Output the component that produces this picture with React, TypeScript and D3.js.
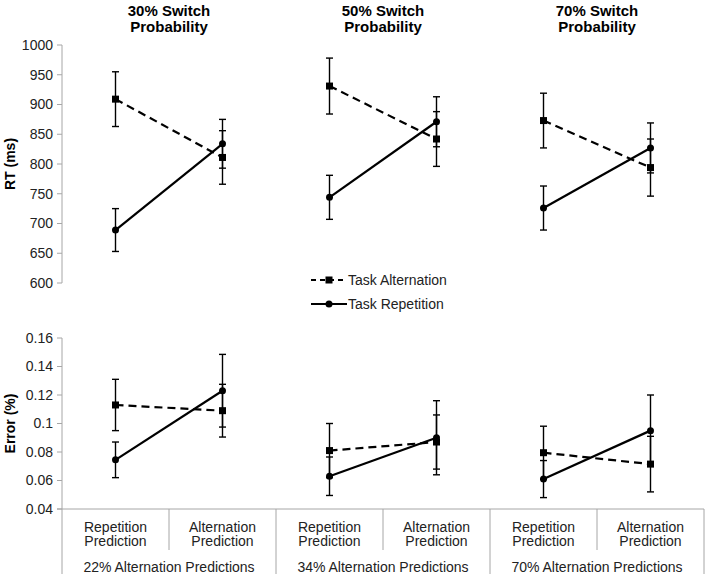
import React from "react";
import * as d3 from "d3";

// panel titles, categories and group labels
const switchTitles = ["30% Switch", "50% Switch", "70% Switch"];
const predictionTypes = ["Repetition Prediction", "Alternation Prediction"];
const groupLabels = ["22% Alternation Predictions", "34% Alternation Predictions", "70% Alternation Predictions"];

// RT (ms), order: group1 rep, group1 alt, group2 rep, ...
const rtAlternation = [909, 811, 931, 842, 873, 794];
const rtAlternationErr = [46, 45, 47, 46, 46, 48];
const rtRepetition = [689, 834, 744, 871, 726, 827];
const rtRepetitionErr = [36, 41, 37, 42, 37, 42];
const rtTicks = [600, 650, 700, 750, 800, 850, 900, 950, 1000];

// Error rates
const errAlternation = [0.113, 0.109, 0.081, 0.087, 0.0795, 0.0715];
const errAlternationErr = [0.018, 0.0185, 0.019, 0.019, 0.0186, 0.0195];
const errRepetition = [0.0745, 0.123, 0.063, 0.09, 0.061, 0.095];
const errRepetitionErr = [0.0125, 0.0255, 0.0135, 0.026, 0.013, 0.025];
const errTicks = [0.04, 0.06, 0.08, 0.1, 0.12, 0.14, 0.16];

const seriesNames = ["Task Alternation", "Task Repetition"];

const W = 709;
const H = 580;
const FONT = "'Liberation Sans', Arial, sans-serif";
const AXIS = "#a6a6a6";

const cats = d3.range(6).map(String);
const x = d3.scaleBand().domain(cats).range([62, 704]);
const yTop = d3.scaleLinear().domain([600, 1000]).range([283, 45]);
const yBot = d3.scaleLinear().domain([0.04, 0.16]).range([509, 338]);

const groupX = (g: number) => (x(String(g * 2))! + x(String(g * 2 + 1))! + x.bandwidth()) / 2;
const cx = (i: number) => x(String(i))! + x.bandwidth() / 2;

type Series = { vals: number[]; errs: number[]; dashed: boolean; square: boolean };

function Panel({ y, series }: { y: d3.ScaleLinear<number, number>; series: Series[] }) {
  return (
    <g>
      {series.map((s, si) => (
        <g key={si}>
          {[0, 1, 2].map((g) => {
            const pts: [number, number][] = [
              [cx(g * 2), y(s.vals[g * 2])],
              [cx(g * 2 + 1), y(s.vals[g * 2 + 1])],
            ];
            return (
              <path
                key={g}
                d={d3.line()(pts) || ""}
                fill="none"
                stroke="#000"
                strokeWidth={2.2}
                strokeDasharray={s.dashed ? "8,5" : undefined}
              />
            );
          })}
          {s.vals.map((v, i) => (
            <g key={i} stroke="#000" strokeWidth={1.4}>
              <line x1={cx(i)} x2={cx(i)} y1={y(v - s.errs[i])} y2={y(v + s.errs[i])} />
              <line x1={cx(i) - 3.5} x2={cx(i) + 3.5} y1={y(v - s.errs[i])} y2={y(v - s.errs[i])} />
              <line x1={cx(i) - 3.5} x2={cx(i) + 3.5} y1={y(v + s.errs[i])} y2={y(v + s.errs[i])} />
            </g>
          ))}
          {s.vals.map((v, i) =>
            s.square ? (
              <rect key={"m" + i} x={cx(i) - 3.5} y={y(v) - 3.5} width={7} height={7} fill="#000" />
            ) : (
              <circle key={"m" + i} cx={cx(i)} cy={y(v)} r={3.5} fill="#000" />
            )
          )}
        </g>
      ))}
    </g>
  );
}

export default function App() {
  const topSeries: Series[] = [
    { vals: rtAlternation, errs: rtAlternationErr, dashed: true, square: true },
    { vals: rtRepetition, errs: rtRepetitionErr, dashed: false, square: false },
  ];
  const botSeries: Series[] = [
    { vals: errAlternation, errs: errAlternationErr, dashed: true, square: true },
    { vals: errRepetition, errs: errRepetitionErr, dashed: false, square: false },
  ];
  const x0 = x.range()[0];
  const x1 = x.range()[1];

  return (
    <svg
      width={W}
      height={H}
      style={{ position: "absolute", left: 0, top: 0, background: "#fff" }}
      fontFamily={FONT}
    >
      {/* titles */}
      {switchTitles.map((t, g) => (
        <text key={t} x={groupX(g)} textAnchor="middle" fontWeight="bold" fontSize={15}>
          <tspan x={groupX(g)} y={16}>{t}</tspan>
          <tspan x={groupX(g)} y={32}>Probability</tspan>
        </text>
      ))}

      {/* top axis */}
      <line x1={x0} x2={x0} y1={yTop.range()[1]} y2={yTop.range()[0]} stroke={AXIS} />
      {rtTicks.map((t) => (
        <g key={t}>
          <line x1={x0 - 5} x2={x0} y1={yTop(t)} y2={yTop(t)} stroke={AXIS} />
          <text x={x0 - 9} y={yTop(t)} dy="0.35em" textAnchor="end" fontSize={14} fill="#222">
            {t}
          </text>
        </g>
      ))}
      <text transform={`translate(15,${(yTop.range()[0] + yTop.range()[1]) / 2}) rotate(-90)`} textAnchor="middle" fontWeight="bold" fontSize={14}>
        RT (ms)
      </text>

      {/* bottom axis */}
      <line x1={x0} x2={x0} y1={yBot.range()[1]} y2={574} stroke={AXIS} />
      <line x1={x0 - 5} x2={x1} y1={yBot(0.04)} y2={yBot(0.04)} stroke={AXIS} />
      {errTicks.map((t) => (
        <g key={t}>
          <line x1={x0 - 5} x2={x0} y1={yBot(t)} y2={yBot(t)} stroke={AXIS} />
          <text x={x0 - 9} y={yBot(t)} dy="0.35em" textAnchor="end" fontSize={14} fill="#222">
            {String(+t.toFixed(2))}
          </text>
        </g>
      ))}
      <text transform={`translate(15,${(yBot.range()[0] + yBot.range()[1]) / 2}) rotate(-90)`} textAnchor="middle" fontWeight="bold" fontSize={14}>
        Error (%)
      </text>

      {/* category separators and labels */}
      {cats.map((c, i) => {
        const right = x(c)! + x.bandwidth();
        const big = i % 2 === 1;
        const [l1, l2] = predictionTypes[i % 2].split(" ");
        return (
          <g key={c}>
            <line x1={right} x2={right} y1={yBot(0.04)} y2={big ? 574 : 550} stroke={AXIS} />
            <text textAnchor="middle" fontSize={14} fill="#222">
              <tspan x={cx(i)} y={531.5}>{l1}</tspan>
              <tspan x={cx(i)} y={546}>{l2}</tspan>
            </text>
          </g>
        );
      })}
      {groupLabels.map((g, gi) => (
        <text key={g} x={groupX(gi)} y={571.5} textAnchor="middle" fontSize={14} fill="#222">
          {g}
        </text>
      ))}

      <Panel y={yTop} series={topSeries} />
      <Panel y={yBot} series={botSeries} />

      {/* legend */}
      {seriesNames.map((n, i) => {
        const ly = 280 + i * 24;
        return (
          <g key={n}>
            <line x1={311} x2={347} y1={ly} y2={ly} stroke="#000" strokeWidth={2.2} strokeDasharray={i === 0 ? "5,4" : undefined} />
            {i === 0 ? (
              <rect x={325.5} y={ly - 3.5} width={7} height={7} fill="#000" />
            ) : (
              <circle cx={329} cy={ly} r={3.5} fill="#000" />
            )}
            <text x={348} y={ly} dy="0.35em" fontSize={14} fill="#222">
              {n}
            </text>
          </g>
        );
      })}
    </svg>
  );
}
